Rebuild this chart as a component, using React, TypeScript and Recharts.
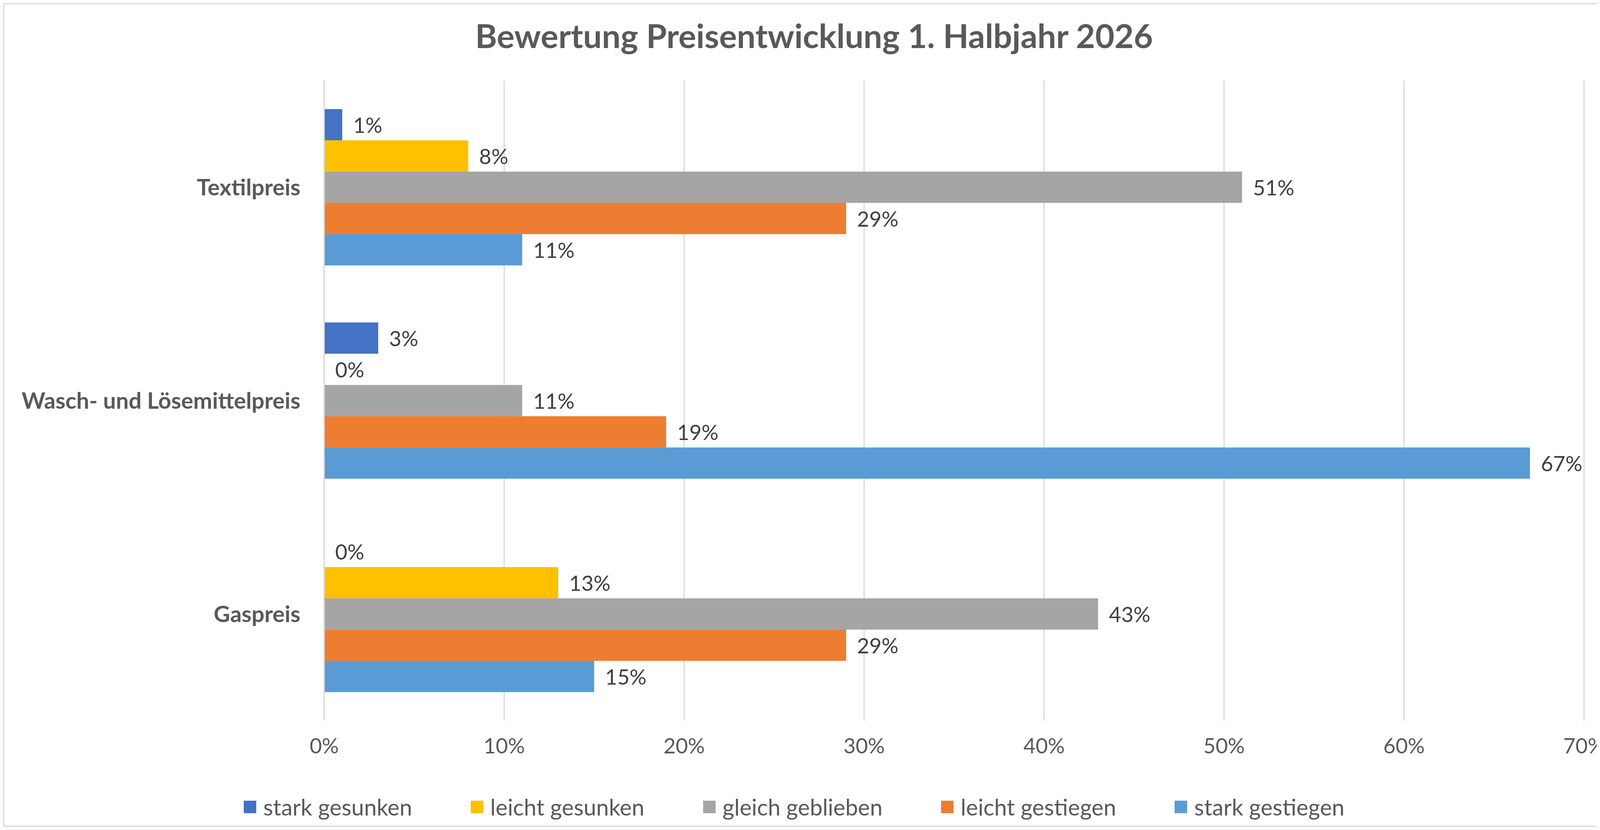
import React from "react";
import { BarChart, Bar, XAxis, YAxis, CartesianGrid, Legend } from "recharts";

const categories = ["Textilpreis", "Wasch- und Lösemittelpreis", "Gaspreis"];
const starkGesunken = [1, 3, 0];
const leichtGesunken = [8, 0, 13];
const gleichGeblieben = [51, 11, 43];
const leichtGestiegen = [29, 19, 29];
const starkGestiegen = [11, 67, 15];
const xTicks = [0, 10, 20, 30, 40, 50, 60, 70];

const series = [
  { key: "s1", name: "stark gesunken", color: "#4472C4", values: starkGesunken },
  { key: "s2", name: "leicht gesunken", color: "#FFC000", values: leichtGesunken },
  { key: "s3", name: "gleich geblieben", color: "#A5A5A5", values: gleichGeblieben },
  { key: "s4", name: "leicht gestiegen", color: "#ED7D31", values: leichtGestiegen },
  { key: "s5", name: "stark gestiegen", color: "#5B9BD5", values: starkGestiegen },
];

const data = categories.map((c, i) => {
  const row: any = { name: c };
  series.forEach((s) => (row[s.key] = s.values[i]));
  return row;
});

const FONT = "Lato, 'Open Sans', sans-serif";

const LegendContent = () => (
  <div style={{ display: "flex", justifyContent: "center", gap: 150, fontFamily: FONT, fontSize: 58, color: "#595959" }}>
    {series.map((s) => (
      <div key={s.key} style={{ display: "flex", alignItems: "center", gap: 18 }}>
        <div style={{ width: 32, height: 32, background: s.color }} />
        <span>{s.name}</span>
      </div>
    ))}
  </div>
);

const makeShape = (key: string, color: string) => (p: any) => {
  const v = p.payload ? p.payload[key] : 0;
  const w = v > 0 ? p.width : 0;
  return (
    <g>
      {v > 0 && <rect x={p.x} y={p.y} width={w} height={p.height} fill={color} />}
      <text x={p.x + w + 28} y={p.y + p.height / 2} dominantBaseline="central"
        style={{ fontFamily: FONT, fontSize: 54, fill: "#404040" }}>{v + "%"}</text>
    </g>
  );
};

export default function App() {
  const W = 4152, H = 2108;
  return (
    <div style={{ position: "relative", width: W, height: H, border: "3px solid #D9D9D9", boxSizing: "border-box", background: "#fff" }}>
      <div style={{ position: "absolute", top: 28, width: "100%", textAlign: "center", fontFamily: FONT, fontWeight: 700, fontSize: 85, color: "#595959" }}>
        Bewertung Preisentwicklung 1. Halbjahr 2026
      </div>
      <BarChart width={W - 6} height={H - 6} data={data} layout="vertical" barCategoryGap="13.4%" barGap={0}
        margin={{ top: 195, right: 102, bottom: 0, left: 0 }}>
        <CartesianGrid horizontal={false} stroke="#D9D9D9" strokeWidth={3} />
        <XAxis type="number" domain={[0, 70]} ticks={xTicks} tickFormatter={(v) => v + "%"} axisLine={false} tickLine={false}
          tick={{ fontFamily: FONT, fontSize: 54, fill: "#595959" }} tickMargin={40} height={200} />
        <YAxis type="category" dataKey="name" width={819} axisLine={{ stroke: "#D9D9D9", strokeWidth: 3 }} tickLine={false}
          tick={{ fontFamily: FONT, fontSize: 58, fontWeight: 700, fill: "#595959" }} tickMargin={55} />
        {series.map((s) => (
          <Bar key={s.key} dataKey={s.key} name={s.name} fill={s.color} minPointSize={1}
            shape={makeShape(s.key, s.color)} isAnimationActive={false} />
        ))}
        <Legend content={<LegendContent />} verticalAlign="bottom" wrapperStyle={{ bottom: 14 }} />
      </BarChart>
    </div>
  );
}
